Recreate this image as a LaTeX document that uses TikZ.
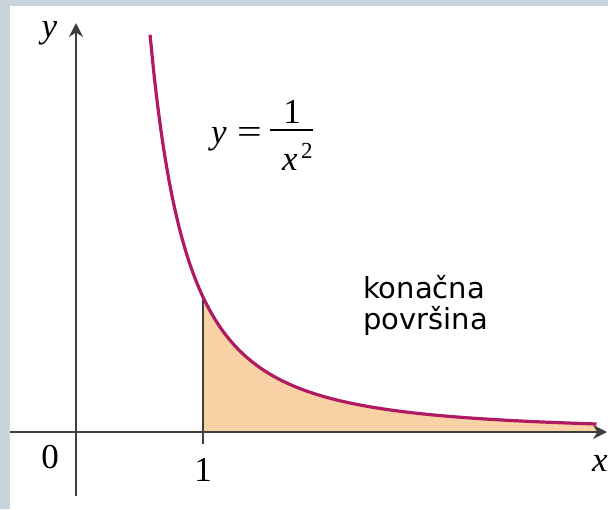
\documentclass[tikz,border=0pt]{standalone}
\usepackage{fontspec}
\usepackage{graphicx}
\setmainfont{Liberation Serif}
\newfontfamily\sansf{DejaVu Sans}
\usetikzlibrary{arrows.meta}
\definecolor{frame}{HTML}{C8D3DA}
\definecolor{curvec}{HTML}{B01A62}
\definecolor{areac}{HTML}{F8D2A4}
\definecolor{axisc}{HTML}{3E3E3E}
\tikzset{
  axis/.style={draw=axisc, line width=1.8pt},
  lbl/.style={inner sep=0pt, font=\fontsize{35}{40}\selectfont},
  sup/.style={inner sep=0pt, font=\fontsize{23}{26}\selectfont},
}
\begin{document}
\begin{tikzpicture}[x=1pt,y=-1pt]
\useasboundingbox (0,0) rectangle (608,509);
\fill[frame] (0,0) rectangle (608,509);
\fill[white] (10,6) rectangle (608,509);
% area
\fill[areac] (203,432) -- plot[domain=1:4.1,samples=80,smooth] ({76+127*\x},{432-135/(\x*\x)}) -- (597,432) -- cycle;
% axes
\coordinate (xl) at (10,432);
\coordinate (xr) at (607,432);
\coordinate (yb) at (76,496);
\coordinate (yt) at (76,23);
\draw[axis,-{Stealth[length=14pt,width=14pt]}] (xl) -- (xr);
\draw[axis,-{Stealth[length=14pt,width=14pt]}] (yb) -- (yt);
\coordinate (p1) at (203,444);
\coordinate (q1) at (203,297);
\draw[axis,line width=1.7pt] (p1) -- (q1);
% curve
\draw[curvec,line width=3.2pt] plot[domain=0.583:4.1,samples=120,smooth] ({76+127*\x},{432-135/(\x*\x)});
% labels
\node[lbl] (ylab) at (49.5,33.5) {\textit{y}};
\node[lbl] (zero) at (50,457) {0};
\node[lbl] (one) at (203,470) {1};
\node[lbl] (xlab) at (600,463) {\textit{x}};
% formula
\node[lbl, anchor=base west] (eqy) at (211,143) {\textit{y}};
\node[lbl] (eqs) at (249.5,135) {\scalebox{1.25}[1]{=}};
\node[lbl] (num) at (292,112) {1};
\coordinate (bl) at (270,130);
\coordinate (br) at (313,130);
\draw[black, line width=1.8pt] (bl) -- (br);
\node[lbl, anchor=base] (den) at (290,170) {\textit{x}};
\node[sup, anchor=base west] (pow) at (301,158) {2};
\node[inner sep=0pt, anchor=base west, align=left, font=\sansf\fontsize{29}{31}\selectfont] (txt) at (363,329) {konačna\\površina};
\end{tikzpicture}
\end{document}
